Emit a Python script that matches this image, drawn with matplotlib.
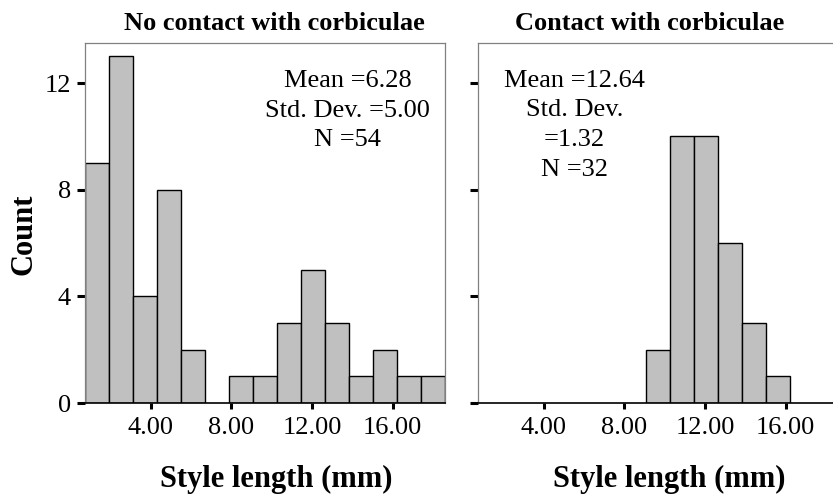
import numpy as np
import matplotlib
matplotlib.use("Agg")
import matplotlib.pyplot as plt

plt.rcParams["font.family"] = ["Liberation Serif", "DejaVu Serif"]

# shared histogram bins (style length, mm)
bin_edges = [0.75, 1.94, 3.13, 4.32, 5.51, 6.70, 7.89, 9.08, 10.27,
             11.46, 12.65, 13.84, 15.03, 16.22, 17.41, 18.60]
no_contact_counts = [9, 13, 4, 8, 2, 0, 1, 1, 3, 5, 3, 1, 2, 1, 1]
contact_counts = [0, 0, 0, 0, 0, 0, 0, 2, 10, 10, 6, 3, 1, 0, 0]

titles = ["No contact with corbiculae", "Contact with corbiculae"]
stats_text = ["Mean =6.28\nStd. Dev. =5.00\nN =54",
              "Mean =12.64\nStd. Dev.\n=1.32\nN =32"]
x_ticks = [4, 8, 12, 16]
x_ticklabels = ["4.00", "8.00", "12.00", "16.00"]
y_ticks = [0, 4, 8, 12]

W, H = 833, 498
fig = plt.figure(figsize=(W / 100, H / 100), dpi=100)

def px_axes(left, top, width, height):
    return fig.add_axes([left / W, (H - top - height) / H, width / W, height / H])

ax1 = px_axes(85, 43, 360, 360)
ax2 = px_axes(478, 43, 360, 360)  # cut off by the figure edge, like the original

edges = np.array(bin_edges)
widths = np.diff(edges)

panels = [
    (ax1, no_contact_counts, titles[0], 0.526, stats_text[0], (0.73, 0.812)),
    (ax2, contact_counts, titles[1], 0.478, stats_text[1], (0.268, 0.772)),
]
for ax, counts, title, title_x, txt, txt_pos in panels:
    c = np.array(counts)
    keep = c > 0
    ax.bar(edges[:-1][keep], c[keep], width=widths[keep], align="edge",
           color="#c0c0c0", edgecolor="black", linewidth=1.0, zorder=2)
    ax.set_xlim(edges[0], edges[-1])
    ax.set_ylim(0, 13.5)
    ax.set_xticks(x_ticks)
    ax.set_xticklabels(x_ticklabels)
    ax.set_yticks(y_ticks)
    ax.tick_params(axis="x", direction="out", length=4.3, width=2.2,
                   labelsize=19, pad=6)
    ax.tick_params(axis="y", direction="out", length=6, width=2.2,
                   labelsize=19, pad=4)
    for side in ["top", "right", "left"]:
        ax.spines[side].set_color("#808080")
        ax.spines[side].set_linewidth(0.9)
    ax.spines["bottom"].set_color("black")
    ax.spines["bottom"].set_linewidth(1.2)
    ax.set_title(title, fontsize=19, fontweight="bold", pad=9, x=title_x)
    ax.set_xlabel("Style length (mm)", fontsize=22, fontweight="bold")
    ax.xaxis.set_label_coords(0.532, -0.171)
    ax.text(txt_pos[0], txt_pos[1], txt, transform=ax.transAxes,
            ha="center", va="center", multialignment="center",
            fontsize=19, linespacing=1.45)

ax1.set_ylabel("Count", fontsize=22, fontweight="bold")
ax1.yaxis.set_label_coords(-0.13, 0.47)
ax2.set_yticklabels([])

fig.savefig("out.png", dpi=100)
